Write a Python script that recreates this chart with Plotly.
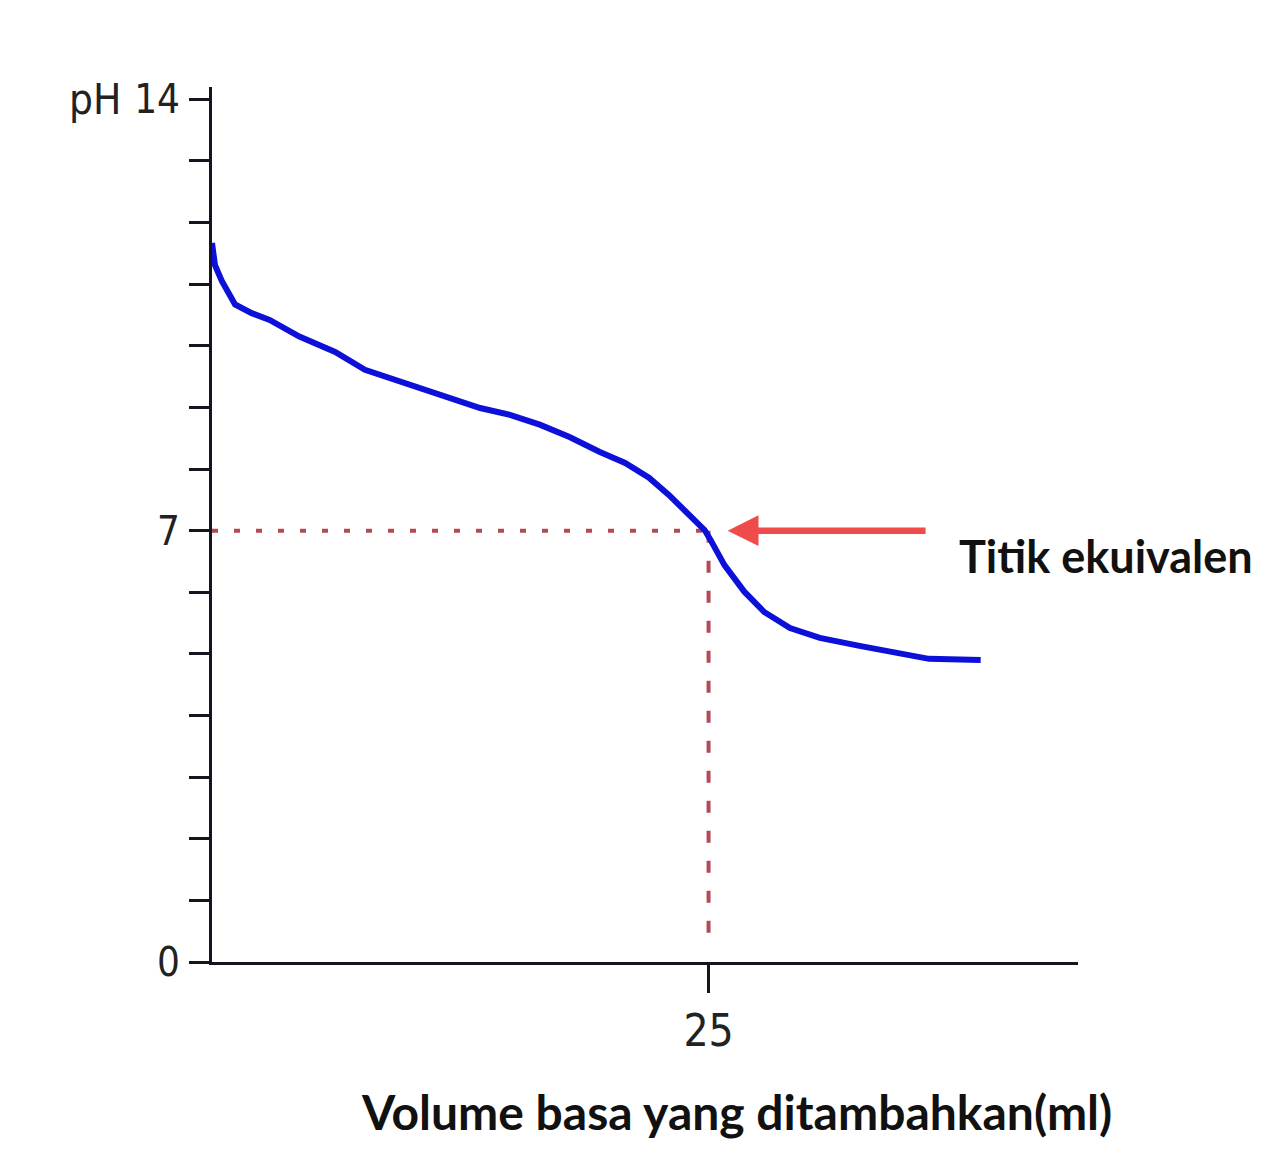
import plotly.graph_objects as go

# titration curve: volume of base added (ml) vs pH
volume_ml = [0.0, 0.15, 0.5, 1.16, 2.0, 2.9, 4.4, 6.2, 7.7, 9.5, 11.5, 13.5, 15.0, 16.5,
             18.0, 19.5, 20.8, 22.0, 23.0, 24.0, 24.8, 25.1, 25.8, 26.8, 27.8, 29.1,
             30.6, 32.6, 34.6, 36.1, 38.7]
ph_values = [11.67, 11.31, 11.05, 10.67, 10.53, 10.42, 10.15, 9.90, 9.61, 9.42, 9.20, 8.99,
             8.88, 8.72, 8.52, 8.28, 8.10, 7.86, 7.58, 7.26, 7.01, 6.85, 6.44, 6.01, 5.68,
             5.42, 5.26, 5.13, 5.00, 4.92, 4.90]

equivalence_volume = 25
equivalence_ph = 7
guide_floor_ph = 0.3

ph_ticks = list(range(0, 15))
ph_tick_labels = ['0' if v == 0 else '7' if v == 7 else '14' if v == 14 else '' for v in ph_ticks]
volume_ticks = [25]
volume_tick_labels = ['25']

axis_color = '#15151f'
guide_color = '#b24a58'
narrow = 'Liberation Sans Narrow, DejaVu Sans Condensed, Liberation Sans, sans-serif'
bold_font = 'Lato, Open Sans, sans-serif'

fig = go.Figure()

# equivalence-point guides
fig.add_trace(go.Scatter(
    x=[0, equivalence_volume], y=[equivalence_ph, equivalence_ph], mode='lines',
    line=dict(color=guide_color, width=4, dash='6px,16px'), hoverinfo='skip'))
fig.add_trace(go.Scatter(
    x=[equivalence_volume, equivalence_volume], y=[equivalence_ph, guide_floor_ph], mode='lines',
    line=dict(color=guide_color, width=4, dash='12px,18px'), hoverinfo='skip'))

fig.add_trace(go.Scatter(
    x=volume_ml, y=ph_values, mode='lines',
    line=dict(color='#0c10d8', width=6), name='pH'))

fig.add_annotation(
    x=equivalence_volume + 0.96, y=equivalence_ph, xref='x', yref='y',
    ax=equivalence_volume + 11, ay=equivalence_ph, axref='x', ayref='y',
    showarrow=True, arrowhead=2, arrowwidth=6.5, arrowsize=0.95, arrowcolor='#f04b4b', text='')
fig.add_annotation(
    x=1.032, y=0.464, xref='paper', yref='paper', xanchor='center', yanchor='middle',
    text='Titik ekuivalen', showarrow=False,
    font=dict(family=bold_font, size=45, color='#111111', weight='bold'))
fig.add_annotation(
    x=-0.103, y=14, xref='paper', yref='y', xanchor='right', yanchor='middle',
    text='pH', showarrow=False,
    font=dict(family=narrow, size=42, color='#222222'))
fig.add_annotation(
    x=0.606, y=-0.171, xref='paper', yref='paper', xanchor='center', yanchor='middle',
    text='Volume basa yang ditambahkan(ml)', showarrow=False,
    font=dict(family=bold_font, size=48, color='#111111', weight='bold'))

fig.update_xaxes(
    range=[0, 43.6], showgrid=False, zeroline=False, showline=True, linecolor=axis_color,
    linewidth=3, ticks='outside', ticklen=28, tickwidth=3, tickcolor=axis_color,
    tickvals=volume_ticks, ticktext=volume_tick_labels,
    tickfont=dict(family=narrow, size=44, color='#222222'))
fig.update_yaxes(
    range=[0, 14.2], showgrid=False, zeroline=False, showline=True, linecolor=axis_color,
    linewidth=3, ticks='outside', ticklen=20, tickwidth=3, tickcolor=axis_color,
    tickvals=ph_ticks, ticktext=ph_tick_labels, ticklabelstandoff=1,
    tickfont=dict(family=narrow, size=40, color='#222222'))

fig.update_layout(
    width=1280, height=1176, showlegend=False,
    plot_bgcolor='white', paper_bgcolor='white',
    margin=dict(l=204, r=210, t=79, b=222))

fig.write_html('out.html')
